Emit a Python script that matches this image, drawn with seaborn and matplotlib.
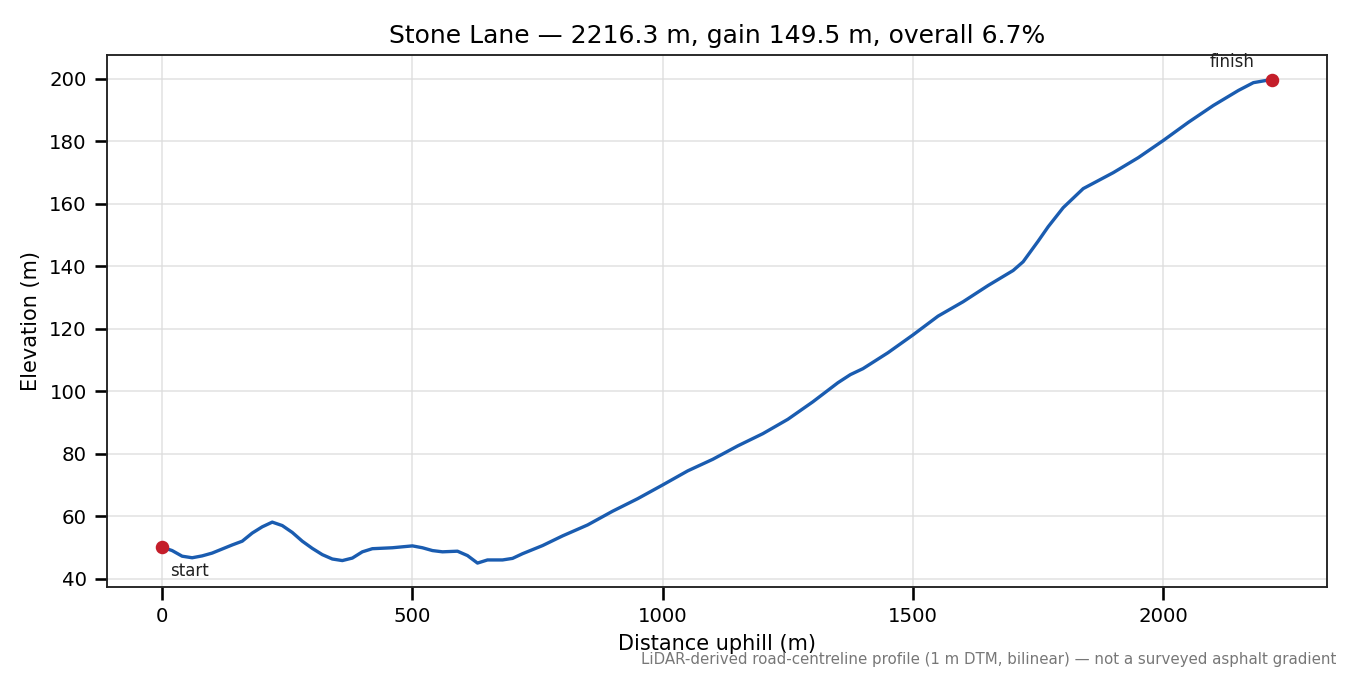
import numpy as np
import pandas as pd
import seaborn as sns
import matplotlib
matplotlib.use("Agg")
import matplotlib.pyplot as plt

# profile
distance = [0, 20, 40, 60, 80, 100, 120, 140, 160, 180, 200, 220, 240, 260, 280,
            300, 320, 340, 360, 380, 400, 420, 460, 500, 520, 540, 560, 590, 610,
            630, 650, 680, 700, 720, 760, 800, 850, 900, 950, 1000, 1050, 1100,
            1150, 1200, 1250, 1300, 1350, 1375, 1400, 1450, 1500, 1550, 1600,
            1650, 1700, 1720, 1750, 1770, 1800, 1840, 1900, 1950, 2000, 2050,
            2100, 2150, 2180, 2216.3]
elevation = [50.1, 49.0, 47.2, 46.7, 47.3, 48.2, 49.5, 50.8, 52.0, 54.6, 56.6,
             58.1, 57.0, 54.8, 52.0, 49.7, 47.7, 46.3, 45.8, 46.6, 48.6, 49.6,
             49.9, 50.5, 49.9, 49.0, 48.6, 48.8, 47.4, 45.0, 46.0, 46.0, 46.5,
             48.0, 50.6, 53.7, 57.2, 61.6, 65.6, 70.0, 74.5, 78.2, 82.5, 86.4,
             91.0, 96.6, 102.7, 105.3, 107.2, 112.3, 118.0, 124.0, 128.6, 133.8,
             138.6, 141.4, 148.0, 152.6, 158.7, 164.8, 169.9, 174.7, 180.2,
             186.0, 191.4, 196.2, 198.7, 199.7]

total_len = 2216.3
gain = 149.5
overall = 6.7

df = pd.DataFrame({"dist": distance, "elev": elevation})

sns.set_theme(style="ticks", rc={"text.color": "black", "axes.labelcolor": "black",
                                 "xtick.color": "black", "ytick.color": "black"})
plt.rcParams["font.family"] = ["DejaVu Sans"]

fig, ax = plt.subplots(figsize=(9, 4.5), dpi=150)
sns.lineplot(data=df, x="dist", y="elev", ax=ax, color="#1a5cb0", linewidth=1.6)

ends = df.iloc[[0, -1]]
ax.scatter(ends["dist"], ends["elev"], color="#c41e2a", s=30, zorder=5)
ax.annotate("start", (ends["dist"].iloc[0], ends["elev"].iloc[0]),
            xytext=(4, -14), textcoords="offset points", fontsize=8, color="#222222")
ax.annotate("finish", (ends["dist"].iloc[1], ends["elev"].iloc[1]),
            xytext=(-19, 6), textcoords="offset points", ha="center",
            fontsize=8, color="#222222")

ax.grid(True, color="#dddddd", linewidth=0.8, alpha=0.8)
ax.set_xlabel("Distance uphill (m)", fontsize=10)
ax.set_ylabel("Elevation (m)", fontsize=10)
ax.set_title(f"Stone Lane \u2014 {total_len} m, gain {gain} m, overall {overall}%", fontsize=12)
ax.tick_params(labelsize=9.5)
for s in ax.spines.values():
    s.set_color("#222222")
    s.set_linewidth(0.9)

fig.text(0.99, 0.012, "LiDAR-derived road-centreline profile (1 m DTM, bilinear) \u2014 not a surveyed asphalt gradient",
         ha="right", va="bottom", fontsize=7.2, color="#777777")

fig.subplots_adjust(left=0.079, right=0.983, top=0.918, bottom=0.13)
fig.savefig("out.png", dpi=150)
